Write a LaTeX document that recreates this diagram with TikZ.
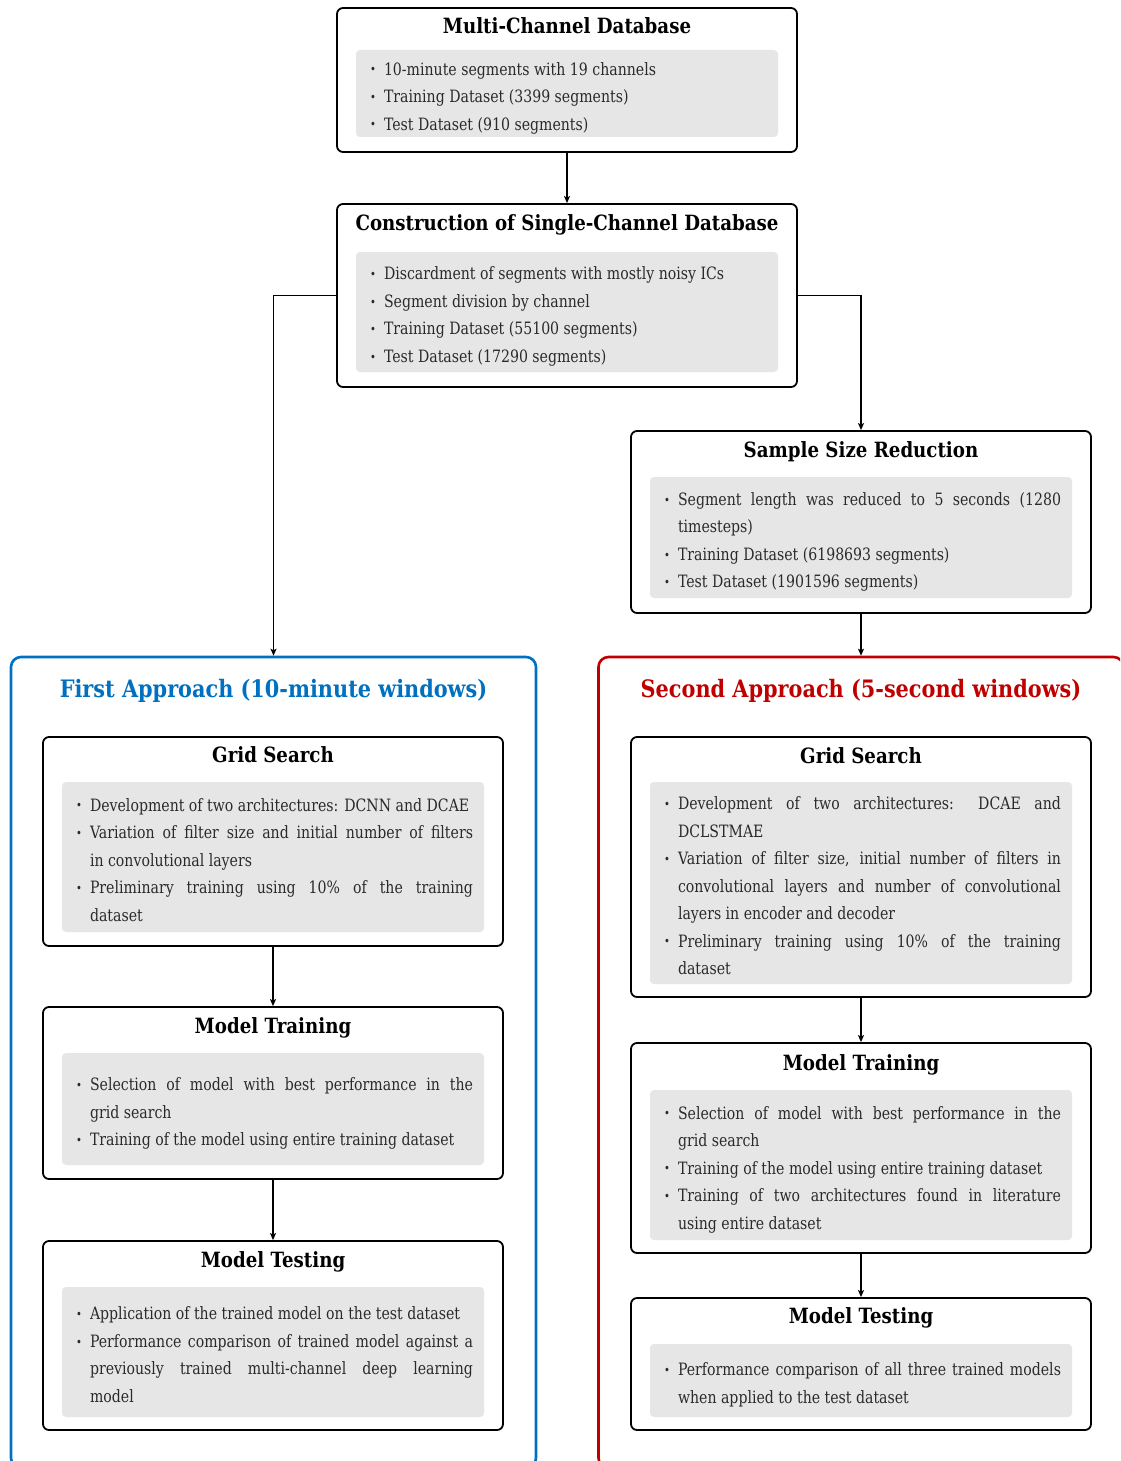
\documentclass[tikz,border=0pt]{standalone}
\usepackage{fontspec}
\setmainfont{DejaVu Serif}[FakeStretch=0.83, BoldFeatures={FakeStretch=0.867}]
\usetikzlibrary{arrows.meta}

\definecolor{panelgray}{HTML}{E6E6E6}
\definecolor{bodyink}{HTML}{2A2A2A}
\definecolor{firstblue}{HTML}{0070C0}
\definecolor{secondred}{HTML}{C00000}

% no hyphenation inside the item lists
\hyphenpenalty=10000
\exhyphenpenalty=10000
\tolerance=9999

% one bullet item with a hanging indent
\newcommand\bulletmark{\raisebox{1.2pt}{\fontsize{12}{12}\selectfont\textbullet}}
\newcommand\itm[1]{\par\noindent\hangindent=14pt\hangafter=1\makebox[14pt][l]{\bulletmark}\strut#1\strut\par}

\tikzset{
  stagebox/.style={draw, line width=1.8pt, rounded corners=6pt, fill=white,
    minimum width=460pt, inner sep=0pt},
  greybox/.style={fill=panelgray, rounded corners=4pt, minimum width=422pt, inner sep=0pt},
  itemtext/.style={inner sep=0pt, text width=397pt, align=justify, text=bodyink,
    font=\fontsize{17}{27.5}\selectfont},
  titletext/.style={inner sep=0pt, font=\fontsize{21}{25}\selectfont\bfseries},
  approach/.style={draw, line width=2.6pt, rounded corners=10pt, fill=white,
    minimum width=525pt, minimum height=811pt, inner sep=0pt},
  approachtitle/.style={inner sep=0pt, font=\fontsize{24}{28}\selectfont\bfseries},
  arr/.style={draw, line width=1.3pt, -{Stealth[length=7pt, width=6pt, inset=1.5pt]}},
}

% #1 name, #2 centre x, #3 top, #4 bottom, #5 title centre y, #6 title,
% #7 grey top, #8 grey bottom, #9 items
\newcommand\flowbox[9]{%
  \node[stagebox, minimum height={#4-#3}] (#1) at (#2,{(#3+#4)/2}) {};
  \node[greybox, minimum height={#8-#7}] (#1-g) at (#2,{(#7+#8)/2}) {};
  \node[itemtext, anchor=west] (#1-t) at ([xshift=14pt,yshift=0.5pt]#1-g.west) {#9};
  \node[titletext, anchor=base] (#1-h) at (#2,#5+7.5) {#6};
}

\begin{document}
\begin{tikzpicture}[x=1pt, y=-1pt]
\useasboundingbox (0,0) rectangle (1120,1461);
\clip (0,0) rectangle (1120,1461);

% the two approach panels
\node[approach, draw=firstblue] (first) at (273.5,1062.5) {};
\node[approachtitle, text=firstblue, anchor=base] (first-h) at (273.5,697) {First Approach (10-minute windows)};
\node[approach, draw=secondred] (second) at (861,1062.5) {};
\node[approachtitle, text=secondred, anchor=base] (second-h) at (861,697) {Second Approach (5-second windows)};

% data preparation
\flowbox{mcd}{567}{8}{152}{26}{Multi-Channel Database}{50}{137}{%
  \itm{10-minute segments with 19 channels}
  \itm{Training Dataset (3399 segments)}
  \itm{Test Dataset (910 segments)}}

\flowbox{cons}{567}{204}{387}{223}{Construction of Single-Channel Database}{252}{372}{%
  \itm{Discardment of segments with mostly noisy ICs}
  \itm{Segment division by channel}
  \itm{Training Dataset (55100 segments)}
  \itm{Test Dataset (17290 segments)}}

\flowbox{ssr}{861}{431}{613}{450}{Sample Size Reduction}{477}{598}{%
  \itm{Segment length was reduced to 5 seconds (1280\linebreak timesteps)}
  \itm{Training Dataset (6198693 segments)}
  \itm{Test Dataset (1901596 segments)}}

% first approach
\flowbox{gsl}{273}{737}{946}{755}{Grid Search}{782}{932}{%
  \itm{Development of two architectures: DCNN and DCAE}
  \itm{Variation of filter size and initial number of filters\linebreak in convolutional layers}
  \itm{Preliminary training using 10\% of the training\linebreak dataset}}

\flowbox{mtl}{273}{1007}{1179}{1026}{Model Training}{1053}{1165}{%
  \itm{Selection of model with best performance in the\linebreak grid search}
  \itm{Training of the model using entire training dataset}}

\flowbox{mxl}{273}{1241}{1430}{1260}{Model Testing}{1287}{1417}{%
  \itm{Application of the trained model on the test dataset}
  \itm{Performance comparison of trained model against a\linebreak previously trained multi-channel deep learning\linebreak model}}

% second approach
\flowbox{gsr}{861}{737}{997}{756}{Grid Search}{782}{984}{%
  \itm{Development of two architectures: DCAE and\linebreak DCLSTMAE}
  \itm{Variation of filter size, initial number of filters in\linebreak convolutional layers and number of convolutional\linebreak layers in encoder and decoder}
  \itm{Preliminary training using 10\% of the training\linebreak dataset}}

\flowbox{mtr}{861}{1043}{1253}{1063}{Model Training}{1090}{1240}{%
  \itm{Selection of model with best performance in the\linebreak grid search}
  \itm{Training of the model using entire training dataset}
  \itm{Training of two architectures found in literature\linebreak using entire dataset}}

\flowbox{mxr}{861}{1298}{1430}{1316}{Model Testing}{1344}{1417}{%
  \itm{Performance comparison of all three trained models\linebreak when applied to the test dataset}}

% connectors
\draw[arr] (mcd.south) -- (cons.north);
\draw[arr] (cons.west) -| (first.north);
\draw[arr] (cons.east) -| (ssr.north);
\draw[arr] (ssr.south) -- (second.north);
\draw[arr] (gsl.south) -- (mtl.north);
\draw[arr] (mtl.south) -- (mxl.north);
\draw[arr] (gsr.south) -- (mtr.north);
\draw[arr] (mtr.south) -- (mxr.north);
\end{tikzpicture}
\end{document}
